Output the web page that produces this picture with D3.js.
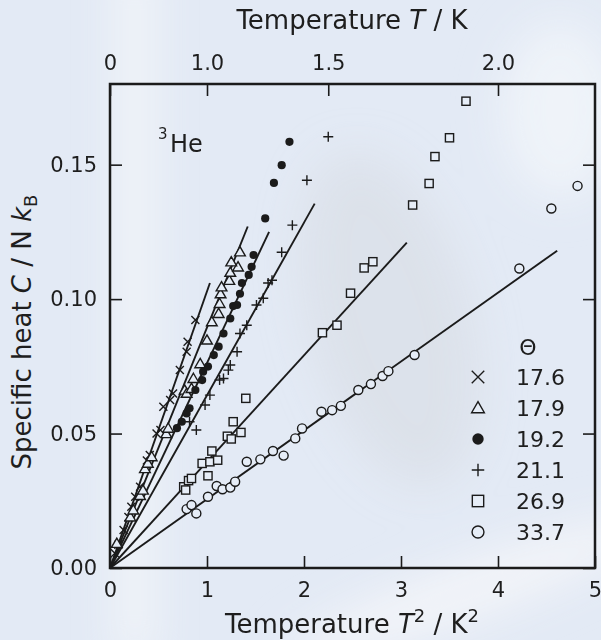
<!DOCTYPE html>
<html>
<head>
<meta charset="utf-8">
<script src="https://cdn.jsdelivr.net/npm/d3@7"></script>
<style>
  body { margin: 0; background: #e4ebf6; }
  svg { display: block; font-family: "DejaVu Sans", sans-serif; }
</style>
</head>
<body>
<svg id="chart" width="601" height="640"></svg>
<script>
// T^2 (K^2), C / N kB
const crossX = [0.05, 0.086, 0.14, 0.19, 0.22, 0.26, 0.31, 0.38, 0.41, 0.48, 0.52, 0.55, 0.62, 0.65, 0.72, 0.79, 0.80, 0.88];
const crossY = [0.0055, 0.0086, 0.0141, 0.019, 0.0228, 0.0265, 0.0302, 0.040, 0.042, 0.050, 0.0513, 0.060, 0.0625, 0.0649, 0.0736, 0.0804, 0.0841, 0.0922];

const triX = [0.07, 0.21, 0.24, 0.31, 0.34, 0.36, 0.39, 0.43, 0.58, 0.60, 0.77, 0.79, 0.84, 0.86, 0.93, 1.00, 1.05, 1.12, 1.13, 1.14, 1.15, 1.23, 1.24, 1.32, 1.25, 1.34];
const triY = [0.0092, 0.019, 0.0216, 0.027, 0.029, 0.037, 0.039, 0.0414, 0.050, 0.052, 0.0662, 0.065, 0.0668, 0.0705, 0.076, 0.0848, 0.0916, 0.0947, 0.0984, 0.102, 0.1046, 0.107, 0.110, 0.112, 0.1139, 0.1176];

const dotX = [0.69, 0.74, 0.79, 0.82, 0.88, 0.95, 0.96, 1.01, 1.07, 1.12, 1.17, 1.24, 1.27, 1.31, 1.34, 1.36, 1.43, 1.46, 1.48, 1.60, 1.69, 1.77, 1.85];
const dotY = [0.052, 0.0544, 0.0575, 0.0594, 0.0662, 0.0699, 0.073, 0.0749, 0.0792, 0.0823, 0.0872, 0.0928, 0.0974, 0.0978, 0.102, 0.106, 0.109, 0.112, 0.1164, 0.130, 0.1432, 0.1498, 0.1585];

const plusX = [0.82, 0.89, 0.98, 1.03, 1.13, 1.17, 1.22, 1.24, 1.31, 1.34, 1.41, 1.51, 1.58, 1.63, 1.67, 1.77, 1.88, 2.03, 2.25];
const plusY = [0.0544, 0.0513, 0.0606, 0.0643, 0.0699, 0.0705, 0.0736, 0.0755, 0.0804, 0.0872, 0.0903, 0.0978, 0.1003, 0.106, 0.107, 0.1174, 0.1275, 0.1442, 0.1604];

const squareX = [0.76, 0.78, 0.81, 0.84, 0.95, 1.01, 1.03, 1.05, 1.11, 1.21, 1.25, 1.27, 1.35, 1.40, 2.19, 2.34, 2.48, 2.62, 2.71, 3.12, 3.29, 3.35, 3.50, 3.67];
const squareY = [0.0302, 0.029, 0.0325, 0.0333, 0.0389, 0.0343, 0.0395, 0.0435, 0.0401, 0.049, 0.048, 0.0544, 0.0504, 0.0631, 0.0875, 0.0903, 0.1022, 0.1116, 0.1139, 0.135, 0.143, 0.153, 0.160, 0.1736];

const circleX = [0.79, 0.84, 0.89, 1.01, 1.10, 1.16, 1.24, 1.29, 1.41, 1.55, 1.68, 1.79, 1.91, 1.98, 2.18, 2.29, 2.38, 2.56, 2.69, 2.81, 2.87, 3.14, 4.22, 4.55, 4.82];
const circleY = [0.0219, 0.0234, 0.0203, 0.0265, 0.0305, 0.0293, 0.0299, 0.0321, 0.0395, 0.0404, 0.0435, 0.0418, 0.0482, 0.0519, 0.0581, 0.0587, 0.0603, 0.0662, 0.0684, 0.0714, 0.0732, 0.0792, 0.1114, 0.1337, 0.1421];

// fitted lines through the origin: end points
const fitEndX = [1.03, 1.42, 1.64, 2.11, 3.06, 4.61];
const fitEndY = [0.106, 0.127, 0.125, 0.1355, 0.121, 0.118];

const thetaLabels = ["17.6", "17.9", "19.2", "21.1", "26.9", "33.7"];
const markerKinds = ["cross", "triangle", "dot", "plus", "square", "circle"];

const bottomTicks = [0, 1, 2, 3, 4, 5];
const leftTicks = [0, 0.05, 0.10, 0.15];
const topTicks = [0, 1.0, 1.5, 2.0];

const ink = "#1b1b1b";
const bg = "#e6edf7";

const svg = d3.select("#chart");

// background, a soft cloudy light blue
const defs = svg.append("defs");
defs.append("filter").attr("id", "blur").attr("x", "-50%").attr("y", "-50%").attr("width", "200%").attr("height", "200%")
    .append("feGaussianBlur").attr("stdDeviation", 22);
svg.append("rect").attr("width", 601).attr("height", 640).attr("fill", "#e3eaf5");
const clouds = svg.append("g").attr("filter", "url(#blur)");
clouds.append("rect").attr("x", 118).attr("y", -40).attr("width", 34).attr("height", 700).attr("fill", "#f5f7fa").attr("opacity", 0.9);
clouds.append("ellipse").attr("cx", 390).attr("cy", 320).attr("rx", 80).attr("ry", 170).attr("fill", "#d7dbe2").attr("opacity", 0.55)
    .attr("transform", "rotate(-15 390 320)");
clouds.append("ellipse").attr("cx", 560).attr("cy", 110).attr("rx", 60).attr("ry", 90).attr("fill", "#f3f6fb").attr("opacity", 0.7);
clouds.append("ellipse").attr("cx", 470).attr("cy", 590).attr("rx", 200).attr("ry", 30).attr("fill", "#f4f6f9").attr("opacity", 0.85)
    .attr("transform", "rotate(-20 470 590)");

const margin = {left: 110, right: 595, top: 84, bottom: 568};

const x = d3.scaleLinear().domain([0, 5]).range([margin.left, margin.right]);
const y = d3.scaleLinear().domain([0, 0.18]).range([margin.bottom, margin.top]);
const xT = d3.scalePow().exponent(2).domain([0, Math.sqrt(5)]).range([margin.left, margin.right]);

// axes, ticks pointing inward
const fmt = d => d === 0 ? "0" : d.toFixed(1);
svg.append("g").attr("transform", `translate(0,${margin.bottom})`)
    .call(d3.axisBottom(x).tickValues(bottomTicks).tickSize(-12).tickPadding(14).tickFormat(d3.format("d")));
svg.append("g").attr("transform", `translate(${margin.left},0)`)
    .call(d3.axisLeft(y).tickValues(leftTicks).tickSize(-12).tickPadding(13).tickFormat(d3.format(".2f")));
svg.append("g").attr("transform", `translate(0,${margin.top})`)
    .call(d3.axisTop(xT).tickValues(topTicks).tickSize(-12).tickPadding(14).tickFormat(fmt));
svg.append("g").attr("transform", `translate(${margin.right},0)`)
    .call(d3.axisRight(y).tickValues(leftTicks).tickSize(-12).tickFormat(""));

svg.selectAll(".domain").remove();
svg.selectAll(".tick line").attr("stroke", ink).attr("stroke-width", 1.6);
svg.selectAll(".tick text").attr("fill", "#1e1e1e").attr("font-size", 21).attr("font-family", "DejaVu Sans, sans-serif");

svg.append("rect")
    .attr("x", margin.left).attr("y", margin.top)
    .attr("width", margin.right - margin.left).attr("height", margin.bottom - margin.top)
    .attr("fill", "none").attr("stroke", ink).attr("stroke-width", 2.5);

// fitted lines
const plot = svg.append("g");
plot.selectAll("line.fit")
    .data(fitEndX.map((d, i) => [d, fitEndY[i]]))
    .join("line")
    .attr("class", "fit")
    .attr("x1", x(0)).attr("y1", y(0))
    .attr("x2", d => x(d[0])).attr("y2", d => y(d[1]))
    .attr("stroke", ink).attr("stroke-width", 1.9);

// marker drawing
function drawMarker(g, kind, s) {
    // s = nominal size
    if (kind === "cross") {
        const h = s / 2;
        g.append("path").attr("d", `M${-h},${-h}L${h},${h}M${-h},${h}L${h},${-h}`)
            .attr("stroke", ink).attr("stroke-width", 1.4).attr("fill", "none");
    } else if (kind === "plus") {
        const h = s / 2;
        g.append("path").attr("d", `M${-h},0L${h},0M0,${-h}L0,${h}`)
            .attr("stroke", ink).attr("stroke-width", 1.4).attr("fill", "none");
    } else if (kind === "triangle") {
        g.append("path").attr("d", d3.symbol(d3.symbolTriangle, s * s * 0.45)())
            .attr("transform", "translate(0,1)")
            .attr("stroke", ink).attr("stroke-width", 1.4).attr("fill", bg);
    } else if (kind === "dot") {
        g.append("circle").attr("r", s / 2.2).attr("fill", ink);
    } else if (kind === "square") {
        const h = s / 2.2;
        g.append("rect").attr("x", -h).attr("y", -h).attr("width", 2 * h).attr("height", 2 * h)
            .attr("stroke", ink).attr("stroke-width", 1.4).attr("fill", bg);
    } else if (kind === "circle") {
        g.append("circle").attr("r", s / 2.1)
            .attr("stroke", ink).attr("stroke-width", 1.4).attr("fill", bg);
    }
}

const seriesX = [crossX, triX, dotX, plusX, squareX, circleX];
const seriesY = [crossY, triY, dotY, plusY, squareY, circleY];
const plotSize = [8, 10.5, 9, 10, 9, 9.5];

seriesX.forEach((xs, si) => {
    const pts = xs.map((d, i) => [d, seriesY[si][i]]);
    plot.append("g").selectAll("g")
        .data(pts)
        .join("g")
        .attr("transform", d => `translate(${x(d[0])},${y(d[1])})`)
        .each(function() { drawMarker(d3.select(this), markerKinds[si], plotSize[si]); });
});

// legend
const legend = svg.append("g");
legend.append("text").attr("x", 528).attr("y", 347).attr("text-anchor", "middle")
    .attr("dominant-baseline", "central").attr("font-size", 22).attr("fill", "#1e1e1e").text("Θ");
const rowY = d3.scalePoint().domain(thetaLabels).range([377, 532]);
thetaLabels.forEach((lab, i) => {
    const g = legend.append("g").attr("transform", `translate(478,${rowY(lab)})`);
    drawMarker(g, markerKinds[i], 12.5);
    legend.append("text").attr("x", 516).attr("y", rowY(lab)).attr("dominant-baseline", "central")
        .attr("font-size", 22).attr("fill", "#1e1e1e").text(lab);
});

// labels
svg.append("text").attr("x", 158).attr("y", 139).attr("font-size", 15).attr("fill", "#1e1e1e").text("3");
svg.append("text").attr("x", 170).attr("y", 152).attr("font-size", 24).attr("fill", "#1e1e1e").text("He");

const topTitle = svg.append("text").attr("x", 352).attr("y", 29).attr("text-anchor", "middle")
    .attr("font-size", 26).attr("fill", "#1e1e1e");
topTitle.append("tspan").text("Temperature ");
topTitle.append("tspan").attr("font-style", "italic").text("T");
topTitle.append("tspan").text(" / K");

const botTitle = svg.append("text").attr("x", 352).attr("y", 633).attr("text-anchor", "middle")
    .attr("font-size", 26).attr("fill", "#1e1e1e");
botTitle.append("tspan").text("Temperature ");
botTitle.append("tspan").attr("font-style", "italic").text("T");
botTitle.append("tspan").attr("font-size", 18).attr("dy", -11).text("2");
botTitle.append("tspan").attr("dy", 11).text(" / K");
botTitle.append("tspan").attr("font-size", 18).attr("dy", -11).text("2");

const yTitle = svg.append("text").attr("transform", "translate(31,332) rotate(-90)")
    .attr("text-anchor", "middle").attr("font-size", 26).attr("fill", "#1e1e1e");
yTitle.append("tspan").text("Specific heat ");
yTitle.append("tspan").attr("font-style", "italic").text("C");
yTitle.append("tspan").text(" / N ");
yTitle.append("tspan").attr("font-style", "italic").text("k");
yTitle.append("tspan").attr("font-size", 18).attr("dy", 6).text("B");
</script>
</body>
</html>
